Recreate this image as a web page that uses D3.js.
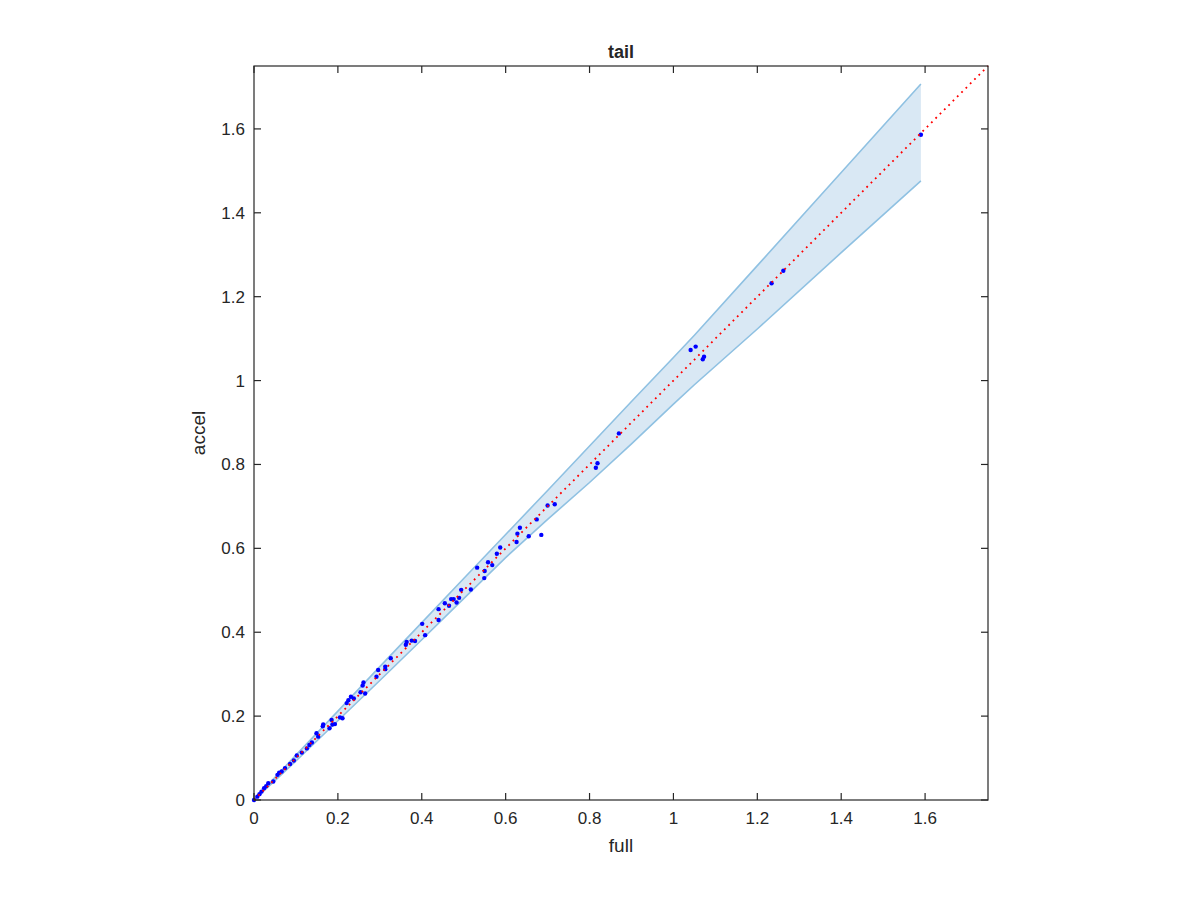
<!DOCTYPE html>
<html>
<head>
<meta charset="utf-8">
<script src="https://cdn.jsdelivr.net/npm/d3@7"></script>
<style>
  body { margin: 0; background: #ffffff; }
  text { font-family: "Liberation Sans", Arial, sans-serif; fill: #262626; }
</style>
</head>
<body>
<div id="plot"></div>
<script>
var width = 1200;
var height = 900;

// full (x) vs accel (y) sample points
var fullVals = [0, 0.008, 0.013, 0.018, 0.024, 0.029, 0.034, 0.046, 0.056, 0.060, 0.066, 0.074, 0.086, 0.095,
    0.102, 0.114, 0.126, 0.132, 0.138, 0.149, 0.153, 0.164, 0.165, 0.180, 0.185, 0.187, 0.193, 0.205, 0.211,
    0.221, 0.225, 0.231, 0.238, 0.254, 0.259, 0.261, 0.265, 0.292, 0.296, 0.313, 0.313, 0.326, 0.362, 0.364,
    0.376, 0.384, 0.401, 0.408, 0.440, 0.440, 0.455, 0.465, 0.470, 0.476, 0.483, 0.489, 0.494, 0.517, 0.532,
    0.549, 0.550, 0.558, 0.568, 0.579, 0.587, 0.626, 0.628, 0.634, 0.655, 0.674, 0.685, 0.700, 0.717,
    0.815, 0.819, 0.870, 1.041, 1.053, 1.070, 1.073, 1.234, 1.262, 1.590];
var accelVals = [0, 0.008, 0.014, 0.020, 0.028, 0.033, 0.040, 0.044, 0.060, 0.065, 0.068, 0.076, 0.086, 0.094,
    0.106, 0.113, 0.123, 0.131, 0.137, 0.159, 0.151, 0.176, 0.180, 0.171, 0.191, 0.180, 0.181, 0.197, 0.195,
    0.231, 0.238, 0.246, 0.242, 0.257, 0.273, 0.280, 0.254, 0.294, 0.310, 0.312, 0.318, 0.338, 0.370, 0.377,
    0.380, 0.379, 0.420, 0.393, 0.429, 0.455, 0.469, 0.463, 0.479, 0.479, 0.471, 0.482, 0.501, 0.502, 0.554,
    0.529, 0.546, 0.567, 0.560, 0.587, 0.602, 0.615, 0.635, 0.649, 0.629, 0.669, 0.632, 0.702, 0.705,
    0.792, 0.803, 0.874, 1.073, 1.081, 1.051, 1.057, 1.232, 1.262, 1.586];

// confidence band
var bandX     = [0, 0.05, 0.1, 0.2, 0.3, 0.4, 0.5, 0.6, 0.7, 0.8, 0.9, 1.0, 1.05, 1.2, 1.4, 1.59];
var bandUpper = [0, 0.054, 0.107, 0.212, 0.318, 0.423, 0.528, 0.633, 0.738, 0.844, 0.950, 1.055, 1.108, 1.274, 1.496, 1.707];
var bandLower = [0, 0.046, 0.093, 0.189, 0.285, 0.382, 0.480, 0.578, 0.669, 0.757, 0.849, 0.944, 0.990, 1.123, 1.305, 1.476];

var ticks = [0, 0.2, 0.4, 0.6, 0.8, 1, 1.2, 1.4, 1.6];
var axisMax = 1.75;

var plotLeft = 254, plotRight = 988, plotTop = 66, plotBottom = 800;

var canvas = d3.select('#plot')
    .append('svg')
    .attr('width', width)
    .attr('height', height);

var x = d3.scaleLinear().domain([0, axisMax]).range([plotLeft, plotRight]);
var y = d3.scaleLinear().domain([0, axisMax]).range([plotBottom, plotTop]);

// band
var band = bandX.map(function(d, i) { return [d, bandLower[i], bandUpper[i]]; });
var area_gen = d3.area()
    .x(function(d) { return x(d[0]); })
    .y0(function(d) { return y(d[1]); })
    .y1(function(d) { return y(d[2]); });
canvas.append('path')
    .attr('d', area_gen(band))
    .attr('fill', '#d9e8f4')
    .attr('stroke', 'none');

var upper_gen = d3.line().x(function(d) { return x(d[0]); }).y(function(d) { return y(d[2]); });
var lower_gen = d3.line().x(function(d) { return x(d[0]); }).y(function(d) { return y(d[1]); });
canvas.append('path')
    .attr('d', upper_gen(band))
    .attr('fill', 'none')
    .attr('stroke', '#8fc1e2')
    .attr('stroke-width', 1.6);
canvas.append('path')
    .attr('d', lower_gen(band))
    .attr('fill', 'none')
    .attr('stroke', '#8fc1e2')
    .attr('stroke-width', 1.6);

// points
var points = fullVals.map(function(d, i) { return [d, accelVals[i]]; });
canvas.selectAll('circle.pt')
    .data(points)
    .enter()
    .append('circle')
    .attr('class', 'pt')
    .attr('cx', function(d) { return x(d[0]); })
    .attr('cy', function(d) { return y(d[1]); })
    .attr('r', 2.2)
    .attr('fill', '#0000ff');

// y = x dotted
canvas.append('path')
    .attr('d', d3.line()([[x(0), y(0)], [x(axisMax), y(axisMax)]]))
    .attr('stroke', '#ff0000')
    .attr('stroke-width', 1.8)
    .attr('stroke-dasharray', '1.8,4.3')
    .attr('fill', 'none');

// axes box
var fmt = function(d) { return String(+d.toFixed(1)); };
var ax = canvas.append('g');
ax.append('rect')
    .attr('x', plotLeft).attr('y', plotTop)
    .attr('width', plotRight - plotLeft).attr('height', plotBottom - plotTop)
    .attr('fill', 'none')
    .attr('stroke', '#262626')
    .attr('stroke-width', 1.2);

var tickLen = 7;
ticks.forEach(function(t) {
    ax.append('line').attr('x1', x(t)).attr('x2', x(t)).attr('y1', plotBottom).attr('y2', plotBottom - tickLen)
        .attr('stroke', '#262626').attr('stroke-width', 1.2);
    ax.append('line').attr('x1', x(t)).attr('x2', x(t)).attr('y1', plotTop).attr('y2', plotTop + tickLen)
        .attr('stroke', '#262626').attr('stroke-width', 1.2);
    ax.append('line').attr('y1', y(t)).attr('y2', y(t)).attr('x1', plotLeft).attr('x2', plotLeft + tickLen)
        .attr('stroke', '#262626').attr('stroke-width', 1.2);
    ax.append('line').attr('y1', y(t)).attr('y2', y(t)).attr('x1', plotRight).attr('x2', plotRight - tickLen)
        .attr('stroke', '#262626').attr('stroke-width', 1.2);
});

ax.selectAll('text.xt')
    .data(ticks)
    .enter()
    .append('text')
    .attr('class', 'xt')
    .attr('x', function(d) { return x(d); })
    .attr('y', plotBottom + 24)
    .attr('text-anchor', 'middle')
    .attr('font-size', 17)
    .text(fmt);

ax.selectAll('text.yt')
    .data(ticks)
    .enter()
    .append('text')
    .attr('class', 'yt')
    .attr('x', plotLeft - 9)
    .attr('y', function(d) { return y(d) + 6; })
    .attr('text-anchor', 'end')
    .attr('font-size', 17)
    .text(fmt);

canvas.append('text')
    .attr('x', (plotLeft + plotRight) / 2)
    .attr('y', 852)
    .attr('text-anchor', 'middle')
    .attr('font-size', 19)
    .text('full');

canvas.append('text')
    .attr('transform', 'translate(205,' + (plotTop + plotBottom) / 2 + ') rotate(-90)')
    .attr('text-anchor', 'middle')
    .attr('font-size', 19)
    .text('accel');

canvas.append('text')
    .attr('x', (plotLeft + plotRight) / 2)
    .attr('y', 58)
    .attr('text-anchor', 'middle')
    .attr('font-size', 18)
    .attr('font-weight', 'bold')
    .text('tail');
</script>
</body>
</html>
